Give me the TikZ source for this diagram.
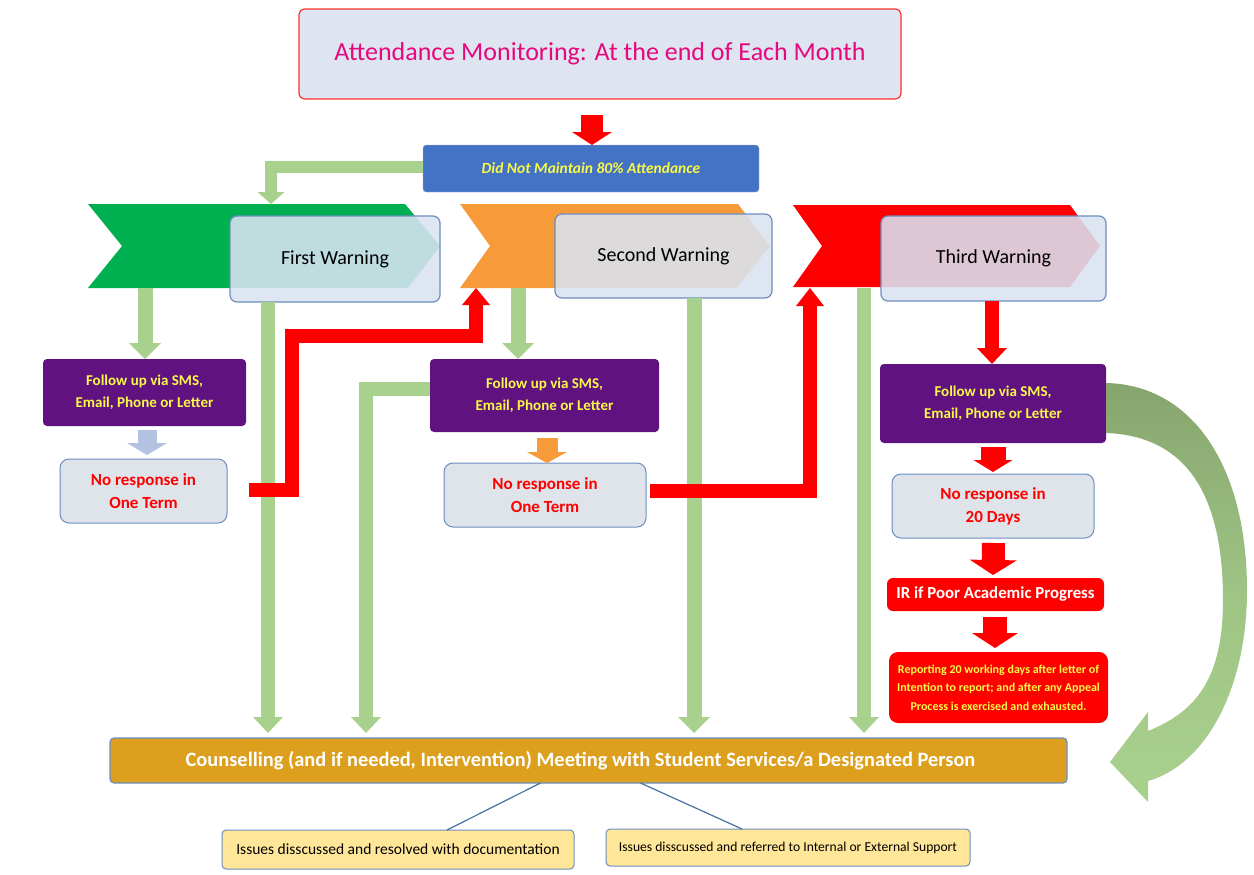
\documentclass[tikz,border=0pt]{standalone}
\usepackage{fontspec}
\setmainfont{Carlito}
\usetikzlibrary{arrows.meta,calc}
\definecolor{chG}{HTML}{00B050}
\definecolor{chO}{HTML}{F79A3A}
\definecolor{purp}{HTML}{5F1280}
\definecolor{yel}{HTML}{F8F848}
\definecolor{tfill}{HTML}{DEE4F0}
\definecolor{tbord}{HTML}{FF3030}
\definecolor{pinkT}{HTML}{E6097D}
\definecolor{blueB}{HTML}{4472C4}
\definecolor{bordB}{HTML}{6C8EBF}
\definecolor{wfill}{HTML}{DAE3F3}
\definecolor{grayF}{HTML}{DEE4EA}
\definecolor{gold}{HTML}{DCA01E}
\definecolor{creme}{HTML}{FFE699}
\definecolor{gA}{HTML}{A9D18E}
\definecolor{gD}{HTML}{86A56E}
\definecolor{lav}{HTML}{B4C2E2}
\definecolor{lineB}{HTML}{4A6FA5}
\begin{document}
\begin{tikzpicture}[x=1pt,y=-1pt,
  every node/.style={inner sep=0pt, outer sep=0pt, align=center},
  barrow/.style n args={3}{line width=#1, line join=miter, -{Triangle[width=#2,length=#3,line width=0pt]}},
  wbox/.style={draw=bordB, line width=1.2pt, rounded corners=7pt, fill=wfill, fill opacity=0.88, text opacity=1, font=\fontsize{20}{23}\selectfont},
  fup/.style={fill=purp, rounded corners=4pt, text=yel, font=\bfseries\fontsize{15}{22}\selectfont},
  nrbox/.style={fill=grayF, draw=bordB, line width=1pt, rounded corners=9pt, text=red, font=\bfseries\fontsize{17}{23}\selectfont},
  redbox/.style={fill=red, rounded corners=6pt},
  cbox/.style={fill=creme, draw=bordB, line width=1pt, rounded corners=4pt}
]
\useasboundingbox (0,0) rectangle (1254,875);

% title
\node[draw=tbord, line width=1.2pt, fill=tfill, rounded corners=6pt, minimum width=602pt, minimum height=90pt,
  text=pinkT, font=\fontsize{26}{30}\selectfont] (title) at (600,54) {\raisebox{6pt}{Attendance Monitoring: At the end of Each Month}};

% blue box
\node[fill=blueB, draw=bordB!60, rounded corners=3pt, minimum width=336pt, minimum height=47pt,
  text=yel, font=\bfseries\itshape\fontsize{15.5}{18}\selectfont] (blue) at (591,168.5) {Did Not Maintain 80\% Attendance};

\coordinate (rtop) at (592,115);
\draw[red, barrow={22pt}{40pt}{13pt}] (rtop) -- (rtop |- blue.north);

% chevrons
\fill[chG] (88,204) -- (405,204) -- (440,246) -- (408,288) -- (88,288) -- (122,246) -- cycle;
\fill[chO] (460,204) -- (738,204) -- (770,246) -- (737,288) -- (460,288) -- (490,246) -- cycle;
\fill[red] (793,205) -- (1070,205) -- (1100,246) -- (1070,287) -- (793,287) -- (822,246) -- cycle;

\coordinate (c1top) at (271,204);
\coordinate (c1b) at (145,288);
\coordinate (c2b) at (518,288);
\coordinate (c2bl) at (476,288);
\coordinate (c3b) at (864,288);
\coordinate (c3bl) at (810,288);
\coordinate (r1a) at (292,336);
\coordinate (x1) at (268,0);
\coordinate (x2) at (366,0);
\coordinate (x3) at (694,0);

% green elbow from blue box
\draw[gA, barrow={12pt}{27pt}{12pt}] ([yshift=1.5pt]blue.west) -| (c1top);

% warning boxes
\node[wbox, minimum width=210pt, minimum height=86pt] (w1) at (335,259) {First Warning};
\node[wbox, minimum width=217pt, minimum height=84pt] (w2) at (663.5,256) {Second Warning};
\node[wbox, minimum width=225pt, minimum height=85pt] (w3) at (993.5,258.5) {Third Warning};

% follow-up boxes
\node[fup, minimum width=203pt, minimum height=67pt] (p1) at (144.5,392.5) {Follow up via SMS,\\Email, Phone or Letter};
\node[fup, minimum width=229pt, minimum height=73pt] (p2) at (544.5,395.5) {Follow up via SMS,\\Email, Phone or Letter};
\node[fup, minimum width=226pt, minimum height=79pt] (p3) at (993,403.5) {\raisebox{7.5pt}{\begin{tabular}{@{}c@{}}Follow up via SMS,\\Email, Phone or Letter\end{tabular}}};

% no response boxes
\node[nrbox, minimum width=167pt, minimum height=64pt] (nr1) at (143.5,491) {No response in\\One Term};
\node[nrbox, minimum width=202pt, minimum height=64pt] (nr2) at (545,495) {No response in\\One Term};
\node[nrbox, minimum width=202pt, minimum height=64pt] (nr3) at (993,506) {No response in\\20 Days};

% IR and report
\node[redbox, minimum width=217pt, minimum height=33pt, text=white, font=\bfseries\fontsize{16.8}{19}\selectfont] (ir) at (995.5,594.5) {IR if Poor Academic Progress};
\node[redbox, rounded corners=9pt, minimum width=219pt, minimum height=71pt, text=yel, font=\bfseries\fontsize{12}{18.5}\selectfont] (rep) at (998.5,687.5) {Reporting 20 working days after letter of\\Intention to report; and after any Appeal\\Process is exercised and exhausted.};

% counselling
\node[fill=gold, draw=bordB, line width=1.2pt, rounded corners=4pt, minimum width=957pt, minimum height=45pt,
  text=white, font=\bfseries\fontsize{20.4}{23}\selectfont] (coun) at (588.5,760.5) {\hspace*{-16pt}Counselling (and if needed, Intervention) Meeting with Student Services/a Designated Person};

% bottom boxes
\node[cbox, minimum width=352pt, minimum height=39pt, font=\fontsize{15.5}{18}\selectfont] (b1) at (398,849.5) {Issues disscussed and resolved with documentation};
\node[cbox, minimum width=364pt, minimum height=37pt, font=\fontsize{13.6}{16}\selectfont] (b2) at (788,847.5) {Issues disscussed and referred to Internal or External Support};

\draw[lineB, line width=1.2pt] ([xshift=-48pt]coun.south) -- ([xshift=49pt]b1.north);
\draw[lineB, line width=1.2pt] ([xshift=52pt]coun.south) -- ([xshift=-46pt]b2.north);

% green arrows
\draw[gA, barrow={15pt}{32pt}{16pt}] (c1b) -- (c1b |- p1.north);
\draw[gA, barrow={15pt}{32pt}{16pt}] (c2b) -- (c2b |- p2.north);
\draw[gA, barrow={14pt}{30pt}{16pt}, shorten >=5pt] (w1.south -| x1) -- (coun.north -| x1);
\draw[gA, barrow={14pt}{30pt}{16pt}, shorten >=5pt] ([yshift=6.5pt]p2.west) -| (coun.north -| x2);
\draw[gA, barrow={15pt}{32pt}{16pt}, shorten >=5pt] (w2.south -| x3) -- (coun.north -| x3);
\draw[gA, barrow={14pt}{30pt}{16pt}, shorten >=5pt] (c3b) -- (coun.north -| c3b);

% small arrows
\draw[lav, barrow={19pt}{40pt}{12pt}] ([xshift=2.5pt,yshift=-4pt]p1.south) -- ([xshift=3.5pt,yshift=4pt]nr1.north);
\draw[chO, barrow={21pt}{40pt}{11pt}] ([xshift=2.5pt,yshift=-6pt]p2.south) -- ([xshift=2pt]nr2.north);
\draw[red, barrow={14pt}{30pt}{16pt}] ([xshift=-1.5pt]w3.south) -- ([xshift=-1pt]p3.north);
\draw[red, barrow={25pt}{39pt}{12pt}] ([yshift=-4pt]p3.south) -- ([xshift=0pt,yshift=2pt]nr3.north);
\draw[red, barrow={23pt}{47pt}{15pt}] ([xshift=0.5pt,yshift=-5pt]nr3.south) -- ([yshift=3pt]ir.north -| nr3.south);
\draw[red, barrow={24pt}{46pt}{15pt}] ([xshift=-0.5pt,yshift=-6pt]ir.south) -- ([xshift=-3.5pt,yshift=4pt]rep.north);

% red elbows
\draw[red, barrow={14pt}{28pt}{17pt}] ([xshift=22pt,yshift=1pt]nr1.east) -| (r1a) -| (c2bl);
\draw[red, barrow={14pt}{28pt}{18pt}] ([xshift=4pt,yshift=4pt]nr2.east) -| (c3bl);

% curved arrow
\shade[top color=gD, bottom color=gA, middle color=gA!70!gD]
  (p3.east |- 0,383) .. controls (1195,385) and (1247,470) .. (1247,590)
  .. controls (1247,690) and (1205,765) .. (1148,781)
  -- (1148,802) -- (1110,762) -- (1148,712) -- (1148,731)
  .. controls (1195,712) and (1223,680) .. (1223,600)
  .. controls (1223,500) and (1190,436) .. (p3.east |- 0,433) -- cycle;
\end{tikzpicture}
\end{document}
